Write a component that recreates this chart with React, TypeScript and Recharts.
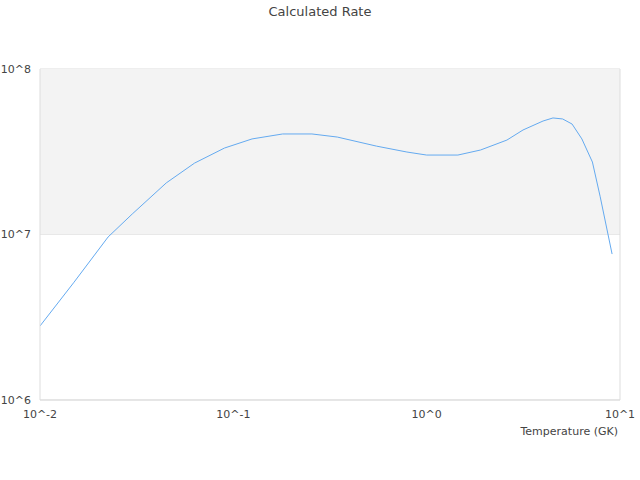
import {
  LineChart,
  Line,
  XAxis,
  YAxis,
  CartesianGrid,
  ReferenceArea,
  ReferenceLine,
} from "recharts";

// temperature in GK
const temperatures = [
  0.01, 0.015, 0.0225, 0.03, 0.045, 0.063, 0.09, 0.125, 0.18, 0.255, 0.345,
  0.55, 0.79, 1.0, 1.45, 1.9, 2.6, 3.15, 4.0, 4.5, 5.05, 5.65, 6.35, 7.2, 7.9,
  9.1,
];

// calculated rate
const rates = [
  2.8e6, 5.15e6, 9.66e6, 1.33e7, 2.05e7, 2.7e7, 3.33e7, 3.78e7, 4.05e7, 4.05e7,
  3.88e7, 3.42e7, 3.15e7, 3.02e7, 3.02e7, 3.24e7, 3.72e7, 4.28e7, 4.85e7,
  5.06e7, 4.99e7, 4.65e7, 3.78e7, 2.74e7, 1.69e7, 7.62e6,
];

const xTicks = [0.01, 0.1, 1, 10];
const yTicks = [1e6, 1e7, 1e8];

const data = temperatures.map((t, i) => ({ t, rate: rates[i] }));

const powerLabel = (v: number) => "10^" + Math.round(Math.log10(v));

const font = "DejaVu Sans, sans-serif";
const tickStyle = { fontSize: 11, fill: "#444", fontFamily: font };

const App = () => {
  return (
    <div
      style={{
        position: "absolute",
        left: 0,
        top: 0,
        width: 640,
        height: 480,
        fontFamily: font,
      }}
    >
      <div
        style={{
          position: "absolute",
          top: 4,
          width: 640,
          textAlign: "center",
          fontSize: 13,
          color: "#444",
        }}
      >
        Calculated Rate
      </div>
      <LineChart
        width={640}
        height={480}
        data={data}
        margin={{ top: 69, right: 20, bottom: 50, left: 0 }}
      >
        <ReferenceArea
          x1={0.01}
          x2={10}
          y1={1e7}
          y2={1e8}
          fill="#f3f3f3"
          fillOpacity={1}
          stroke="none"
        />
        <CartesianGrid vertical={false} stroke="#dddddd" />
        <ReferenceLine x={10} stroke="#dddddd" />
        <XAxis
          dataKey="t"
          type="number"
          scale="log"
          domain={[0.01, 10]}
          ticks={xTicks}
          tickFormatter={powerLabel}
          tick={tickStyle}
          tickLine={false}
          tickSize={6}
          tickMargin={4}
          axisLine={{ stroke: "#dddddd" }}
          height={30}
          allowDataOverflow
        />
        <YAxis
          type="number"
          scale="log"
          domain={[1e6, 1e8]}
          ticks={yTicks}
          tickFormatter={powerLabel}
          tick={tickStyle}
          tickLine={false}
          tickSize={6}
          tickMargin={3}
          axisLine={{ stroke: "#dddddd" }}
          width={40}
          allowDataOverflow
        />
        <Line
          type="linear"
          dataKey="rate"
          stroke="#64aaf0"
          strokeWidth={1}
          dot={false}
          isAnimationActive={false}
        />
      </LineChart>
      <div
        style={{
          position: "absolute",
          top: 425,
          right: 22,
          fontSize: 11,
          color: "#444",
        }}
      >
        Temperature (GK)
      </div>
    </div>
  );
};

export default App;
